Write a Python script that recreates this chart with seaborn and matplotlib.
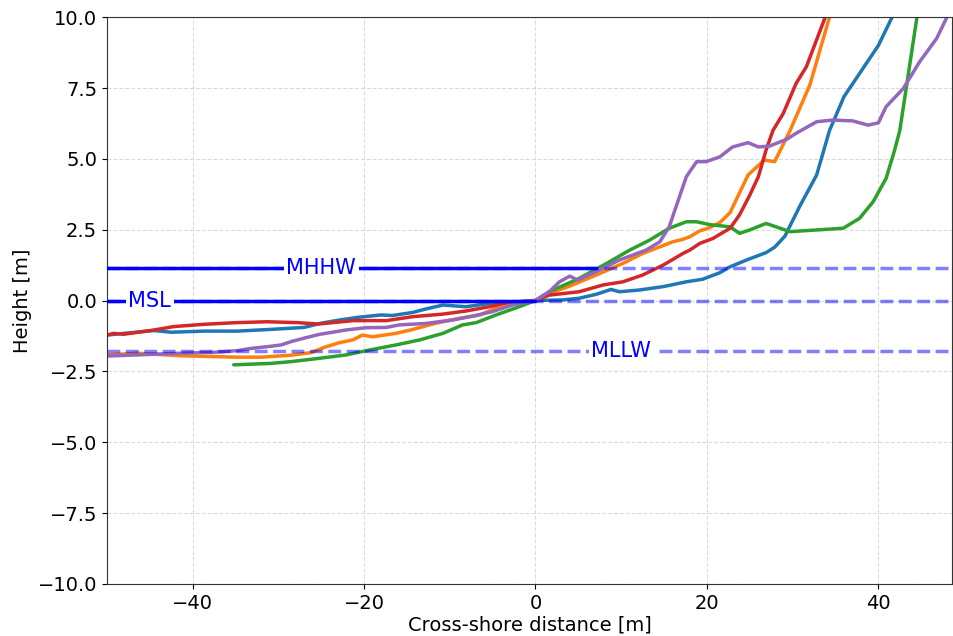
import numpy as np
import pandas as pd
import matplotlib
matplotlib.use("Agg")
import matplotlib.pyplot as plt
import seaborn as sns

# ---- profile data (cross-shore distance [m], height [m]) ----
blue_x = [-50, -48, -44.5, -42.5, -38.7, -34.8, -30.9, -27, -25, -22.9, -20.6, -18, -16.7,
          -14.3, -12.8, -10.8, -8.1, -5.8, -3.4, 0, 3.2, 5.1, 7.1, 8.8, 9.8, 12.1, 14.9, 17.6,
          19.5, 21.5, 22.7, 24.8, 26.9, 27.9, 29.1, 30.8, 32.8, 34.3, 36, 38, 40, 41.6, 42.2]
blue_y = [-1.22, -1.16, -1.06, -1.12, -1.08, -1.08, -1.02, -0.95, -0.8, -0.69, -0.59, -0.51, -0.53,
          -0.42, -0.30, -0.16, -0.22, -0.12, -0.08, 0, 0.02, 0.08, 0.22, 0.39, 0.31, 0.37, 0.49, 0.66,
          0.75, 0.98, 1.19, 1.45, 1.69, 1.88, 2.27, 3.31, 4.43, 6.0, 7.2, 8.1, 9.0, 10.0, 10.4]

orange_x = [-50, -46.4, -41.4, -37.5, -34.8, -32, -28.5, -26.2, -24.6, -22.9, -21.3, -20.2, -19,
            -16.3, -14.3, -11.6, -8.9, -6.5, -4.2, -1.9, 0, 1.6, 4, 7.1, 10.2, 12.5, 16, 17.2, 18,
            19.1, 20.3, 21.5, 22.7, 24.8, 26.7, 27.9, 29.7, 32, 34.3, 34.8]
orange_y = [-1.92, -1.86, -1.95, -1.98, -2.0, -2.0, -1.93, -1.84, -1.65, -1.49, -1.39, -1.22, -1.28,
            -1.16, -1.02, -0.80, -0.63, -0.51, -0.22, -0.08, 0, 0.25, 0.51, 0.90, 1.31, 1.66, 2.07,
            2.16, 2.25, 2.45, 2.57, 2.75, 3.10, 4.43, 4.96, 4.90, 6.0, 7.6, 10.0, 10.5]

green_x = [-35.2, -30.9, -28.6, -25.2, -22.1, -19.4, -16.3, -13.5, -10.8, -8.5, -6.9, -4.6, -1.9,
           0, 1.6, 5.1, 8.3, 11, 13.3, 15.6, 17.6, 18.8, 20.3, 22.7, 23.8, 25, 26.9, 29.7, 32.8,
           35.9, 37.8, 39.4, 40.9, 41.9, 42.5, 43.5, 44.5, 45]
green_y = [-2.27, -2.22, -2.16, -2.04, -1.92, -1.75, -1.57, -1.39, -1.16, -0.86, -0.78, -0.51, -0.22,
           0, 0.31, 0.78, 1.31, 1.78, 2.13, 2.55, 2.78, 2.78, 2.68, 2.60, 2.37, 2.49, 2.72, 2.43,
           2.49, 2.55, 2.9, 3.49, 4.31, 5.31, 6.0, 8.0, 10.0, 10.5]

red_x = [-50, -49.2, -48, -44.5, -42.2, -38.7, -34.8, -31.3, -27.8, -25.3, -21.3, -17.4, -14.3,
         -10.8, -8.1, -5.4, -3.4, 0, 1.6, 5.1, 7.9, 10.2, 12.5, 14.9, 17.2, 18, 19.2, 20.7, 22.7,
         23.8, 25, 26, 26.9, 27.7, 28.9, 30.4, 31.6, 33.8, 34.2]
red_y = [-1.22, -1.16, -1.19, -1.04, -0.92, -0.84, -0.78, -0.75, -0.78, -0.83, -0.71, -0.71, -0.57,
         -0.48, -0.37, -0.22, -0.08, 0, 0.19, 0.31, 0.55, 0.66, 0.90, 1.25, 1.66, 1.78, 2.02, 2.19,
         2.55, 3.02, 3.72, 4.37, 5.31, 6.0, 6.6, 7.66, 8.25, 10.0, 10.4]

purple_x = [-50, -46.4, -41.4, -37.5, -34.8, -33.2, -31.3, -29.7, -28.5, -27, -25.3, -22.1, -19.8,
            -17.4, -15.9, -12.8, -9.7, -7.3, -5, -2.7, 0, 1.6, 2.8, 4, 4.9, 7.1, 9.8, 12.9, 14.5,
            15.6, 16.4, 17.6, 18.8, 19.9, 21.5, 23, 24.8, 26, 27.3, 29.3, 30.4, 32.8, 34.7, 37,
            38.8, 40, 40.9, 42.9, 44.8, 46.8, 48, 48.6]
purple_y = [-1.96, -1.92, -1.86, -1.83, -1.77, -1.69, -1.63, -1.57, -1.45, -1.33, -1.2, -1.04, -0.96,
            -0.95, -0.86, -0.81, -0.69, -0.55, -0.39, -0.16, 0, 0.31, 0.66, 0.86, 0.72, 1.02, 1.43,
            1.78, 2.07, 2.60, 3.31, 4.37, 4.90, 4.90, 5.07, 5.42, 5.57, 5.42, 5.45, 5.69, 5.90,
            6.31, 6.37, 6.34, 6.19, 6.27, 6.84, 7.48, 8.42, 9.25, 10.0, 10.4]

profile_names = ["p1", "p2", "p3", "p4", "p5"]
profile_colors = ["#1f77b4", "#ff7f0e", "#2ca02c", "#d62728", "#9467bd"]

# ---- tidal datums ----
tide_names = ["MHHW", "MSL", "MLLW"]
tide_levels = [1.14, 0.0, -1.78]
tide_solid_end = [7.1, 0.0, None]      # landward extent of the solid part
tide_label_x = [-25.0, -45.0, 10.0]

x_min, x_max = -50, 48.6

# ---- build long-form frame ----
frames = []
for name, xs, ys in zip(profile_names,
                        [blue_x, orange_x, green_x, red_x, purple_x],
                        [blue_y, orange_y, green_y, red_y, purple_y]):
    frames.append(pd.DataFrame({"x": xs, "z": ys, "profile": name}))
df = pd.concat(frames, ignore_index=True)

sns.set_style("ticks")
plt.rcParams.update({"text.color": "black", "axes.labelcolor": "black",
                     "xtick.color": "black", "ytick.color": "black",
                     "axes.edgecolor": "#333333"})
fig, ax = plt.subplots(figsize=(9.54, 6.36), dpi=100)
fig.subplots_adjust(left=0.112, right=0.998, top=0.973, bottom=0.082)

sns.lineplot(data=df, x="x", y="z", hue="profile", hue_order=profile_names,
             palette=profile_colors, sort=False, estimator=None, lw=2.5,
             legend=False, ax=ax)

for name, lvl, send, lx in zip(tide_names, tide_levels, tide_solid_end, tide_label_x):
    ax.axhline(lvl, color="blue", alpha=0.5, ls="--", lw=2.5, zorder=3)
    if send is not None:
        ax.plot([x_min, send], [lvl, lvl], color="blue", lw=2.5, zorder=4)
    ax.text(lx, lvl, name, color="blue", fontsize=15, ha="center", va="center",
            zorder=5, bbox=dict(facecolor="white", edgecolor="none", pad=2))

ax.set_xlim(x_min, x_max)
ax.set_ylim(-10, 10)
ax.set_yticks(np.arange(-10, 10.1, 2.5))
ax.set_xticks([-40, -20, 0, 20, 40])
ax.grid(True, ls="--", color="lightgray", alpha=0.8, lw=0.8)
ax.set_axisbelow(True)
ax.set_xlabel("Cross-shore distance [m]", fontsize=14, labelpad=2)
ax.set_ylabel("Height [m]", fontsize=14)
ax.tick_params(labelsize=14)

fig.savefig("out.png", dpi=100)
